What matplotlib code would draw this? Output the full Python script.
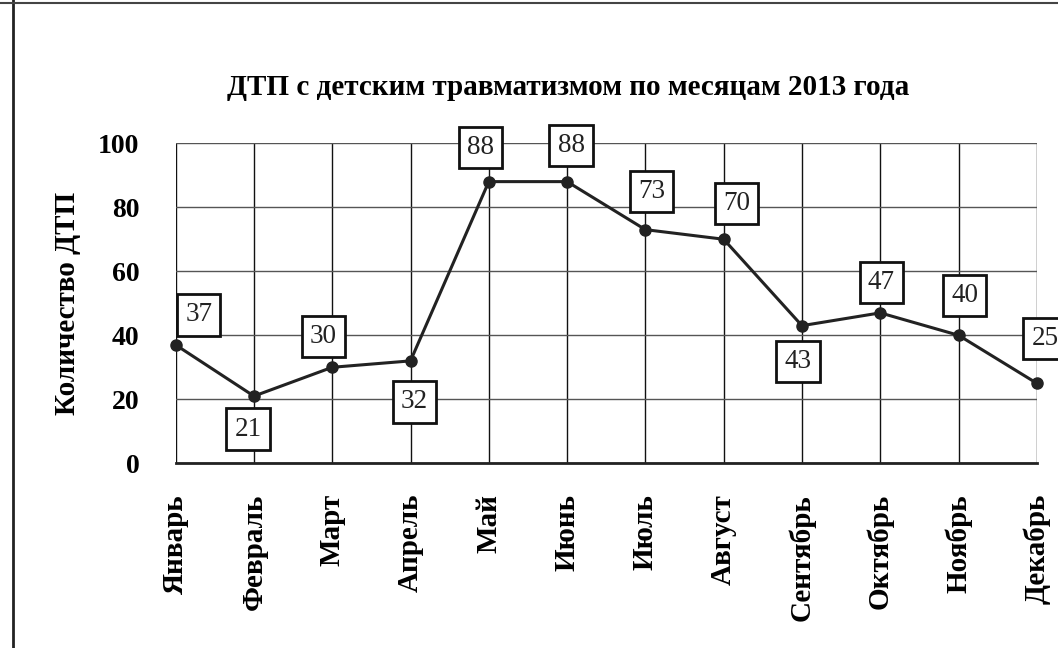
import matplotlib.pyplot as plt
from matplotlib.lines import Line2D

months = ["Январь", "Февраль", "Март", "Апрель", "Май", "Июнь",
          "Июль", "Август", "Сентябрь", "Октябрь", "Ноябрь", "Декабрь"]
dtp = [37, 21, 30, 32, 88, 88, 73, 70, 43, 47, 40, 25]
yticks = [0, 20, 40, 60, 80, 100]
title = "ДТП с детским травматизмом по месяцам 2013 года"
ylabel = "Количество ДТП"

# where each boxed label sits relative to its point (pixels)
label_offsets = [(23, 30), (-6, -33), (-9, 31), (4, -41), (-8, 34), (4, 36),
                 (6, 38), (13, 36), (-4, -36), (1, 30), (6, 40), (8, 45)]

plt.rcParams['font.family'] = ['Liberation Serif', 'DejaVu Serif']

fig = plt.figure(figsize=(10.58, 6.48), dpi=100)
ax = fig.add_axes([0.166, 0.285, 0.814, 0.494])

x = list(range(len(months)))
ax.plot(x, dtp, color='#222222', lw=2.2, marker='o', ms=8, zorder=3, clip_on=False)

for i, v in enumerate(dtp):
    dx, dy = label_offsets[i]
    ax.annotate(str(v), (i, v), xytext=(dx, dy), textcoords='offset pixels',
                ha='center', va='center', fontsize=19.5, color='#222222',
                bbox=dict(boxstyle='square,pad=0.3', fc='white', ec='#111111', lw=2),
                zorder=4, annotation_clip=False)

ax.set_xlim(0, len(months) - 1)
ax.set_ylim(0, 100)
ax.set_yticks(yticks)
ax.set_xticks(x)
ax.set_yticklabels([str(t) for t in yticks], fontsize=20, fontweight='bold')
ax.set_xticklabels(months, rotation=90, fontsize=21, fontweight='bold', va='top')
ax.tick_params(axis='both', length=0)
ax.tick_params(axis='y', pad=26)
ax.tick_params(axis='x', pad=22)

ax.grid(axis='y', color='#555555', lw=1.0)
ax.grid(axis='x', color='#111111', lw=1.0)
ax.set_axisbelow(True)
for side in ['top', 'right', 'left']:
    ax.spines[side].set_visible(False)
ax.spines['bottom'].set_linewidth(2.0)
ax.spines['bottom'].set_color('#222222')

ax.set_ylabel(ylabel, fontsize=21, fontweight='bold', labelpad=12)
fig.text(0.537, 0.865, title, ha='center', va='center', fontsize=21, fontweight='bold')

# page border lines from the scan
fig.add_artist(Line2D([0.012, 0.012], [0, 1], color='#222222', lw=2))
fig.add_artist(Line2D([0, 1], [0.995, 0.995], color='#444444', lw=1.5))

fig.savefig("out.png", dpi=100)
